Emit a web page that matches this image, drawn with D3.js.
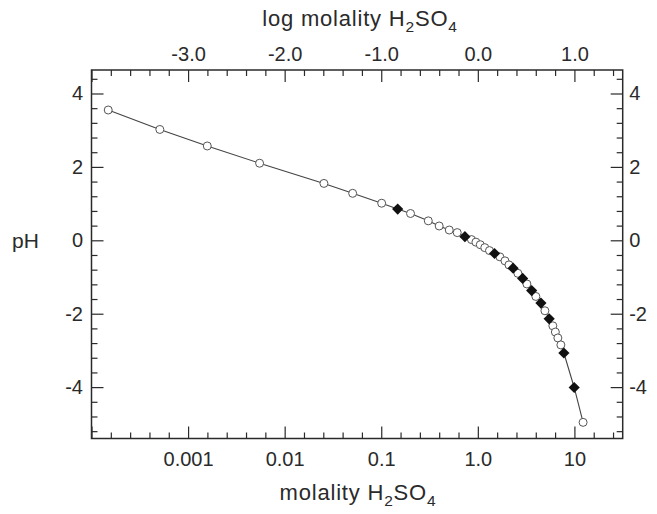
<!DOCTYPE html>
<html>
<head>
<meta charset="utf-8">
<script src="https://cdn.jsdelivr.net/npm/d3@7"></script>
<style>
  body { margin: 0; background: #fff; }
  svg { display: block; font-family: "Liberation Sans", Arial, Helvetica, sans-serif; }
</style>
</head>
<body>
<div id="chart"></div>
<script>
// open circles: molality (mol/kg) and pH
const openMolality = [1.49e-4, 5.1e-4, 1.58e-3, 5.5e-3, 0.0255, 0.0506, 0.101, 0.201, 0.307, 0.398,
  0.506, 0.612, 0.859, 0.955, 1.06, 1.18, 1.32, 1.69, 1.91, 2.10, 2.60, 3.22, 3.99, 4.95,
  5.98, 6.35, 6.74, 7.24, 12.3];
const openPH = [3.55, 3.02, 2.57, 2.10, 1.55, 1.28, 1.01, 0.73, 0.53, 0.39,
  0.28, 0.21, 0.02, -0.05, -0.12, -0.20, -0.28, -0.45, -0.56, -0.67, -0.90, -1.19, -1.53, -1.92,
  -2.33, -2.50, -2.66, -2.85, -4.96];

// filled diamonds
const filledMolality = [0.148, 0.735, 1.49, 2.32, 2.91, 3.61, 4.50, 5.48, 7.78, 9.95];
const filledPH = [0.85, 0.10, -0.36, -0.76, -1.04, -1.37, -1.71, -2.14, -3.07, -4.01];

// tick values
const logTicksMajor = [-4, -3, -2, -1, 0, 1];
const logLabels = ["", "-3.0", "-2.0", "-1.0", "0.0", "1.0"];
const molLabels = ["", "0.001", "0.01", "0.1", "1.0", "10"];
const phTicksMajor = [-4, -2, 0, 2, 4];
const phLabels = ["-4", "-2", "0", "2", "4"];

const width = 657, height = 514;
const plotLeft = 91.5, plotRight = 622.7, plotTop = 70, plotBottom = 438.5;
const ink = "#2a2a2a";

const x = d3.scaleLog().domain([1e-4, Math.pow(10, 1.5)]).range([plotLeft, plotRight]);
const xl = d3.scaleLinear().domain([-4, 1.5]).range([plotLeft, plotRight]);
const y = d3.scaleLinear().domain([-5.4, 4.64]).range([plotBottom, plotTop]);

const logMinor = d3.range(-4, 1.5, 0.2).map(v => +v.toFixed(1)).filter(v => !Number.isInteger(v));
const phMinor = d3.range(-5.2, 4.5, 0.4).map(v => +v.toFixed(1)).filter(v => !phTicksMajor.includes(v));

const svg = d3.select("#chart").append("svg")
  .attr("width", width)
  .attr("height", height);

const fontSize = 20;

function styleAxis(g) {
  g.select(".domain").remove();
  g.selectAll(".tick line").attr("stroke", ink).attr("stroke-width", 1.2);
  g.selectAll(".tick text").attr("fill", ink).attr("font-size", fontSize);
  g.attr("font-family", null).attr("font-size", null);
}

// top axis (log molality)
svg.append("g").attr("transform", `translate(0,${plotTop})`)
  .call(d3.axisTop(xl).tickValues(logMinor).tickSize(-6).tickFormat(""))
  .call(styleAxis);
svg.append("g").attr("transform", `translate(0,${plotTop})`)
  .call(d3.axisTop(xl).tickValues(logTicksMajor).tickSize(-12).tickPadding(9)
    .tickFormat((d, i) => logLabels[i]))
  .call(styleAxis);

// bottom axis (molality)
svg.append("g").attr("transform", `translate(0,${plotBottom})`)
  .call(d3.axisBottom(xl).tickValues(logMinor).tickSize(-6).tickFormat(""))
  .call(styleAxis);
svg.append("g").attr("transform", `translate(0,${plotBottom})`)
  .call(d3.axisBottom(xl).tickValues(logTicksMajor).tickSize(-12).tickPadding(13)
    .tickFormat((d, i) => molLabels[i]))
  .call(styleAxis);

// left and right axes (pH)
svg.append("g").attr("transform", `translate(${plotLeft},0)`)
  .call(d3.axisLeft(y).tickValues(phMinor).tickSize(-6).tickFormat(""))
  .call(styleAxis);
svg.append("g").attr("transform", `translate(${plotLeft},0)`)
  .call(d3.axisLeft(y).tickValues(phTicksMajor).tickSize(-12).tickPadding(8.5)
    .tickFormat((d, i) => phLabels[i]))
  .call(styleAxis);
svg.append("g").attr("transform", `translate(${plotRight},0)`)
  .call(d3.axisRight(y).tickValues(phMinor).tickSize(-6).tickFormat(""))
  .call(styleAxis);
svg.append("g").attr("transform", `translate(${plotRight},0)`)
  .call(d3.axisRight(y).tickValues(phTicksMajor).tickSize(-12).tickPadding(6.5)
    .tickFormat((d, i) => phLabels[i]))
  .call(styleAxis);

// frame
svg.append("rect")
  .attr("x", plotLeft).attr("y", plotTop)
  .attr("width", plotRight - plotLeft).attr("height", plotBottom - plotTop)
  .attr("fill", "none").attr("stroke", ink).attr("stroke-width", 1.5);

// connecting line through all points
const allPts = openMolality.map((m, i) => [m, openPH[i]])
  .concat(filledMolality.map((m, i) => [m, filledPH[i]]))
  .sort((a, b) => a[0] - b[0]);

svg.append("path")
  .datum(allPts)
  .attr("fill", "none")
  .attr("stroke", "#444")
  .attr("stroke-width", 1.1)
  .attr("d", d3.line().x(d => x(d[0])).y(d => y(d[1])));

svg.append("g")
  .selectAll("circle")
  .data(openMolality.map((m, i) => [m, openPH[i]]))
  .join("circle")
  .attr("cx", d => x(d[0]))
  .attr("cy", d => y(d[1]))
  .attr("r", 4)
  .attr("fill", "#fff")
  .attr("stroke", "#555")
  .attr("stroke-width", 1);

svg.append("g")
  .selectAll("path")
  .data(filledMolality.map((m, i) => [m, filledPH[i]]))
  .join("path")
  .attr("transform", d => `translate(${x(d[0])},${y(d[1])})`)
  .attr("d", d3.symbol(d3.symbolDiamond2, 80))
  .attr("fill", "#111");

// axis titles with subscripts
function chemTitle(g, prefix) {
  const t = g.append("text").attr("fill", ink).attr("font-size", 22)
    .attr("letter-spacing", 0.8).attr("text-anchor", "middle");
  t.append("tspan").text(prefix + "H");
  t.append("tspan").attr("font-size", 15.5).attr("dy", 6).text("2");
  t.append("tspan").attr("dy", -6).text("SO");
  t.append("tspan").attr("font-size", 15.5).attr("dy", 6).text("4");
  return t;
}

chemTitle(svg, "log molality ").attr("x", 360).attr("y", 26);
chemTitle(svg, "molality ").attr("x", 358).attr("y", 500);

svg.append("text")
  .attr("x", 12).attr("y", 248)
  .attr("fill", ink)
  .attr("font-size", 21)
  .text("pH");
</script>
</body>
</html>
